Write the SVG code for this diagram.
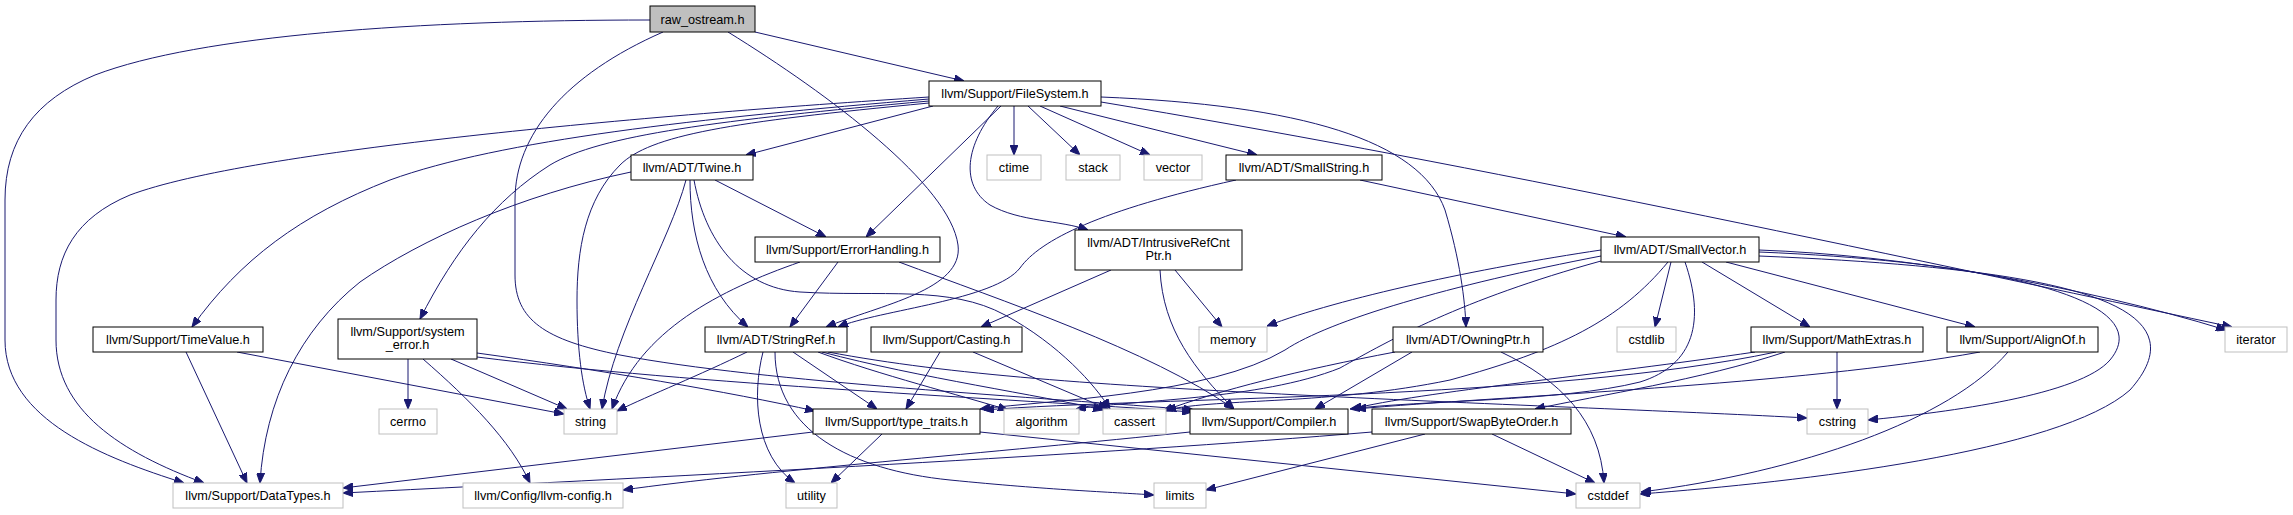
<svg xmlns="http://www.w3.org/2000/svg" width="2293" height="515" viewBox="0 0 2293 515">
<style>
.n rect{fill:#fff;stroke:#000;stroke-width:1}
.x rect{fill:#fff;stroke:#bfbfbf;stroke-width:1}
text{font-family:"Liberation Sans",Arial,sans-serif;font-size:12.7px;text-anchor:middle;fill:#000}
.e path{fill:none;stroke:#191970;stroke-width:1;marker-end:url(#a)}
</style>
<defs>
<marker id="a" viewBox="0 0 10 8" refX="10" refY="4" markerWidth="10" markerHeight="8" markerUnits="userSpaceOnUse" orient="auto"><path d="M0,0 L10,4 L0,8 z" fill="#191970" stroke="#191970" stroke-width="1"/></marker>
</defs>
<rect width="2293" height="515" fill="#fff"/>
<g id="edges" class="e">
<path d="M650,20 C420,20 200,35 95,75 C35,100 5,140 5,200 L5,340 C5,420 105,458 184,483"/>
<path d="M755,32 L964,81"/>
<path d="M728,32 C830,95 950,185 958,245 C964,290 880,305 826,327"/>
<path d="M663,32 C565,75 515,135 515,200 L515,275 C515,320 545,340 620,355 C760,382 1050,398 1194,410"/>
<path d="M933,106 L746,155"/>
<path d="M929,97 C650,115 250,150 130,195 C75,218 56,255 56,300 L56,340 C56,410 120,452 204,483"/>
<path d="M929,99 C700,118 500,140 390,180 C300,215 240,260 192,327"/>
<path d="M929,101 C720,120 600,135 550,165 C495,200 455,250 420,319"/>
<path d="M929,103 C730,122 650,135 620,165 C585,200 577,250 577,300 C577,350 582,385 590,409"/>
<path d="M1001,106 L866,237"/>
<path d="M998,106 C965,145 960,185 990,205 C1020,222 1060,220 1088,230"/>
<path d="M1014,106 L1014,155"/>
<path d="M1028,106 L1080,155"/>
<path d="M1040,106 L1150,155"/>
<path d="M1060,106 L1257,155"/>
<path d="M1101,102 C1450,160 1800,235 2232,327"/>
<path d="M1101,97 C1300,105 1420,140 1445,210 C1460,260 1465,300 1466,327"/>
<path d="M715,180 L826,237"/>
<path d="M690,180 C690,235 705,290 748,327"/>
<path d="M686,180 C670,240 615,330 602,409"/>
<path d="M694,180 C705,240 740,288 800,292 C880,297 950,285 1005,315 C1060,345 1095,385 1110,409"/>
<path d="M631,172 C520,195 420,240 360,282 C300,330 265,400 260,483"/>
<path d="M1360,180 L1626,237"/>
<path d="M1236,180 C1100,210 1040,240 1020,268 C995,300 880,310 838,327"/>
<path d="M838,262 L790,327"/>
<path d="M800,262 C720,290 640,330 612,409"/>
<path d="M899,262 C1000,300 1150,350 1234,409"/>
<path d="M1111,270 L981,327"/>
<path d="M1160,270 C1163,330 1195,370 1234,409"/>
<path d="M1175,270 L1222,327"/>
<path d="M1601,250 C1480,268 1340,298 1267,326"/>
<path d="M1601,256 C1450,285 1330,320 1285,350 C1210,395 1050,400 980,409"/>
<path d="M1601,261 C1460,300 1390,340 1340,368 C1260,400 1130,400 1076,409"/>
<path d="M1668,262 C1620,320 1560,350 1450,380 C1330,405 1220,398 1166,410"/>
<path d="M1685,262 C1705,320 1695,365 1640,382 C1560,402 1420,400 1350,409"/>
<path d="M1671,262 L1655,327"/>
<path d="M1702,262 L1810,327"/>
<path d="M1726,262 L1975,327"/>
<path d="M1759,250 C1900,255 2080,285 2226,330"/>
<path d="M1759,252 C2000,262 2160,300 2110,360 C2080,395 1950,412 1868,420"/>
<path d="M1759,256 C2050,268 2210,300 2130,390 C2060,452 1800,482 1640,494"/>
<path d="M186,352 L247,483"/>
<path d="M237,352 L564,414"/>
<path d="M408,359 L408,409"/>
<path d="M451,359 L567,409"/>
<path d="M423,359 C470,400 510,440 530,483"/>
<path d="M477,353 C600,370 730,392 815,411"/>
<path d="M477,357 C700,385 1000,398 1192,412"/>
<path d="M747,352 C700,375 650,395 617,411"/>
<path d="M763,352 C752,395 755,455 795,483"/>
<path d="M775,352 C775,430 850,470 950,480 C1050,490 1110,492 1154,495"/>
<path d="M793,352 L877,409"/>
<path d="M818,352 C880,375 960,395 1008,410"/>
<path d="M822,352 C920,378 1040,395 1103,410"/>
<path d="M828,352 C950,375 1100,385 1300,395 C1500,405 1700,412 1807,418"/>
<path d="M940,352 L906,409"/>
<path d="M973,352 L1108,409"/>
<path d="M1412,352 L1315,409"/>
<path d="M1395,352 C1300,370 1220,390 1163,411"/>
<path d="M1501,352 C1560,380 1600,420 1604,483"/>
<path d="M1755,352 C1600,375 1420,392 1352,409"/>
<path d="M1785,352 C1700,380 1600,395 1535,409"/>
<path d="M1776,352 C1550,400 1150,397 984,410"/>
<path d="M1837,352 L1837,409"/>
<path d="M1980,352 C1800,385 1500,396 1356,409"/>
<path d="M2008,352 C1950,420 1800,472 1641,492"/>
<path d="M813,432 L343,488"/>
<path d="M882,434 L831,483"/>
<path d="M980,432 L1576,494"/>
<path d="M1190,432 C1000,452 750,472 623,490"/>
<path d="M1372,432 C1100,455 700,475 343,493"/>
<path d="M1425,434 L1206,490"/>
<path d="M1492,434 L1595,483"/>
</g>
<g id="n_raw_ostream" class="n"><rect x="650" y="6" width="105" height="26" style="fill:#bfbfbf"/><text x="702.5" y="23.5">raw_ostream.h</text></g>
<g id="n_filesystem" class="n"><rect x="929" y="81" width="172" height="25"/><text x="1015" y="98">llvm/Support/FileSystem.h</text></g>
<g id="n_twine" class="n"><rect x="631" y="155" width="122" height="25"/><text x="692" y="172">llvm/ADT/Twine.h</text></g>
<g id="n_ctime" class="x"><rect x="987" y="155" width="54" height="25"/><text x="1014" y="172">ctime</text></g>
<g id="n_stack" class="x"><rect x="1066" y="155" width="54" height="25"/><text x="1093" y="172">stack</text></g>
<g id="n_vector" class="x"><rect x="1144" y="155" width="58" height="25"/><text x="1173" y="172">vector</text></g>
<g id="n_smallstring" class="n"><rect x="1226" y="155" width="156" height="25"/><text x="1304" y="172">llvm/ADT/SmallString.h</text></g>
<g id="n_errorhandling" class="n"><rect x="755" y="237" width="185" height="25"/><text x="847.5" y="254">llvm/Support/ErrorHandling.h</text></g>
<g id="n_intrusiverefcntptr" class="n"><rect x="1075" y="230" width="167" height="40"/><text x="1158.5" y="246.5">llvm/ADT/IntrusiveRefCnt</text><text x="1158.5" y="260">Ptr.h</text></g>
<g id="n_smallvector" class="n"><rect x="1601" y="237" width="158" height="25"/><text x="1680" y="254">llvm/ADT/SmallVector.h</text></g>
<g id="n_timevalue" class="n"><rect x="93" y="327" width="170" height="25"/><text x="178" y="344">llvm/Support/TimeValue.h</text></g>
<g id="n_system_error" class="n"><rect x="338" y="319" width="139" height="40"/><text x="407.5" y="335.5">llvm/Support/system</text><text x="407.5" y="349">_error.h</text></g>
<g id="n_stringref" class="n"><rect x="705" y="327" width="142" height="25"/><text x="776" y="344">llvm/ADT/StringRef.h</text></g>
<g id="n_casting" class="n"><rect x="871" y="327" width="151" height="25"/><text x="946.5" y="344">llvm/Support/Casting.h</text></g>
<g id="n_memory" class="x"><rect x="1199" y="327" width="68" height="25"/><text x="1233" y="344">memory</text></g>
<g id="n_owningptr" class="n"><rect x="1393" y="327" width="150" height="25"/><text x="1468" y="344">llvm/ADT/OwningPtr.h</text></g>
<g id="n_cstdlib" class="x"><rect x="1617" y="327" width="59" height="25"/><text x="1646.5" y="344">cstdlib</text></g>
<g id="n_mathextras" class="n"><rect x="1751" y="327" width="172" height="25"/><text x="1837" y="344">llvm/Support/MathExtras.h</text></g>
<g id="n_alignof" class="n"><rect x="1947" y="327" width="151" height="25"/><text x="2022.5" y="344">llvm/Support/AlignOf.h</text></g>
<g id="n_iterator" class="x"><rect x="2225" y="327" width="62" height="25"/><text x="2256" y="344">iterator</text></g>
<g id="n_cerrno" class="x"><rect x="379" y="409" width="58" height="25"/><text x="408" y="426">cerrno</text></g>
<g id="n_string" class="x"><rect x="564" y="409" width="53" height="25"/><text x="590.5" y="426">string</text></g>
<g id="n_type_traits" class="n"><rect x="813" y="409" width="167" height="25"/><text x="896.5" y="426">llvm/Support/type_traits.h</text></g>
<g id="n_algorithm" class="x"><rect x="1004" y="409" width="75" height="25"/><text x="1041.5" y="426">algorithm</text></g>
<g id="n_cassert" class="x"><rect x="1103" y="409" width="63" height="25"/><text x="1134.5" y="426">cassert</text></g>
<g id="n_compiler" class="n"><rect x="1190" y="409" width="158" height="25"/><text x="1269" y="426">llvm/Support/Compiler.h</text></g>
<g id="n_swapbyteorder" class="n"><rect x="1372" y="409" width="199" height="25"/><text x="1471.5" y="426">llvm/Support/SwapByteOrder.h</text></g>
<g id="n_cstring" class="x"><rect x="1807" y="409" width="61" height="25"/><text x="1837.5" y="426">cstring</text></g>
<g id="n_datatypes" class="x"><rect x="173" y="483" width="170" height="25"/><text x="258" y="500">llvm/Support/DataTypes.h</text></g>
<g id="n_llvm_config" class="x"><rect x="463" y="483" width="160" height="25"/><text x="543" y="500">llvm/Config/llvm-config.h</text></g>
<g id="n_utility" class="x"><rect x="786" y="483" width="51" height="25"/><text x="811.5" y="500">utility</text></g>
<g id="n_limits" class="x"><rect x="1154" y="483" width="52" height="25"/><text x="1180" y="500">limits</text></g>
<g id="n_cstddef" class="x"><rect x="1576" y="483" width="64" height="25"/><text x="1608" y="500">cstddef</text></g>
</svg>
